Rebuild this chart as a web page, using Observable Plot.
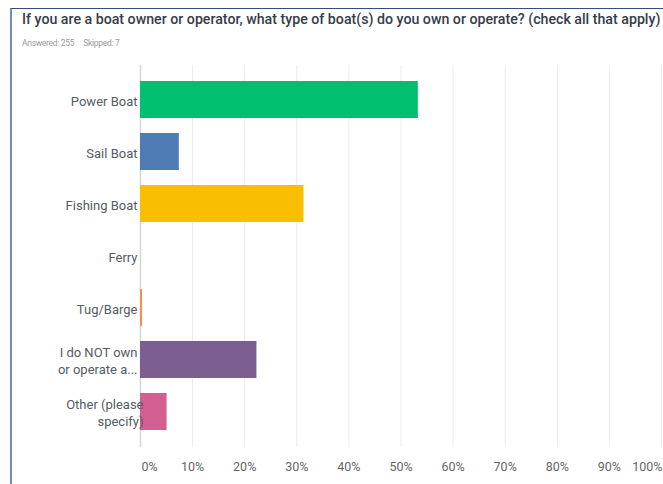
<!DOCTYPE html>
<html>
<head>
<meta charset="utf-8">
<script src="https://cdn.jsdelivr.net/npm/d3@7"></script>
<script src="https://cdn.jsdelivr.net/npm/@observablehq/plot@0.6"></script>
<style>
  html, body { margin: 0; padding: 0; background: #fff; }
  body { width: 663px; height: 484px; position: relative; overflow: hidden; font-family: Roboto, "Noto Sans", sans-serif; }
  #frame { position: absolute; left: 10px; top: 8px; right: -5px; bottom: -5px; border-top: 1px solid #2f4f82; border-left: 2px solid #6f8fae; }
  #title { position: absolute; left: 22px; top: 11px; font-size: 14.2px; font-weight: 500; color: #333e48; white-space: nowrap; }
  #sub { position: absolute; left: 22px; top: 38px; font-size: 8.5px; letter-spacing: -0.3px; color: #9a9a9a; white-space: nowrap; }
  #sub span { margin-right: 9px; }
  #chart { position: absolute; left: 0; top: 58px; }
</style>
</head>
<body>
<div id="frame"></div>
<div id="title">If you are a boat owner or operator, what type of boat(s) do you own or operate? (check all that apply)</div>
<div id="sub"><span>Answered: 255</span><span>Skipped: 7</span></div>
<div id="chart"></div>
<script>
const categories = ["Power Boat", "Sail Boat", "Fishing Boat", "Ferry", "Tug/Barge", "I do NOT own or operate a boat", "Other (please specify)"];
const labels = ["Power Boat", "Sail Boat", "Fishing Boat", "Ferry", "Tug/Barge", "I do NOT own\nor operate a...", "Other (please\nspecify)"];
const values = [53.33, 7.45, 31.37, 0, 0.39, 22.35, 5.10];
const colors = ["#00bf6f", "#507cb6", "#f9be00", "#6bc8cd", "#ff8b4f", "#7d5e90", "#d25f90"];
const xTicks = [0, 10, 20, 30, 40, 50, 60, 70, 80, 90, 100];

const data = categories.map((c, i) => ({category: c, value: values[i], color: colors[i]}));
const labelOf = new Map(categories.map((c, i) => [c, labels[i]]));
const fmt = d => d + "%";

const plot = Plot.plot({
  width: 663,
  height: 426,
  marginLeft: 140,
  marginRight: 2,
  marginTop: 7,
  marginBottom: 37,
  style: {fontFamily: "Roboto, 'Noto Sans', sans-serif", background: "transparent"},
  x: {domain: [0, 100], axis: null, label: null},
  y: {domain: categories, padding: 0.285, axis: null, label: null},
  marks: [
    Plot.ruleX(xTicks.slice(1), {stroke: "#ececec", strokeWidth: 1}),
    Plot.ruleX([0], {stroke: "#d6d6d6", strokeWidth: 1.5}),
    Plot.ruleY([0], {frameAnchor: "bottom", stroke: "#dcdcdc", strokeWidth: 1.5}),
    Plot.barX(data, {y: "category", x: "value", fill: "color"}),
    Plot.axisY(categories.filter(c => c !== "Other (please specify)"), {label: null, tickSize: 0, tickPadding: 3, tickFormat: c => labelOf.get(c), fontSize: 13, fill: "#555b62", lineHeight: 1.35}),
    Plot.axisY(["Other (please specify)"], {label: null, tickSize: 0, tickPadding: -3, tickFormat: c => labelOf.get(c), fontSize: 13, fill: "#555b62", lineHeight: 1.35}),
    Plot.axisX([0], {label: null, tickSize: 0, tickPadding: 15, tickFormat: fmt, textAnchor: "start", dx: 1, fontSize: 12.5, fill: "#666"}),
    Plot.axisX(xTicks.slice(1, -1), {label: null, tickSize: 0, tickPadding: 15, tickFormat: fmt, fontSize: 12.5, fill: "#666"}),
    Plot.axisX([100], {label: null, tickSize: 0, tickPadding: 15, tickFormat: fmt, textAnchor: "end", dx: 1, fontSize: 12.5, fill: "#666"})
  ]
});
document.getElementById("chart").appendChild(plot);
</script>
</body>
</html>
